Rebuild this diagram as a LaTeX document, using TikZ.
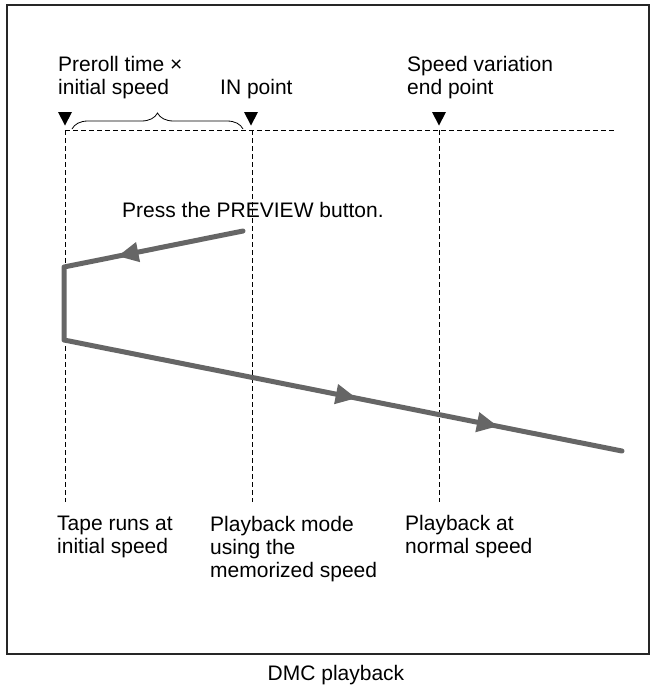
\documentclass[tikz,border=0pt]{standalone}
\usepackage{fontspec}
\setmainfont{Liberation Sans}
\usetikzlibrary{arrows.meta,positioning,decorations.pathreplacing,decorations.markings}
\definecolor{tapeGray}{RGB}{102,102,102}

\begin{document}
\begin{tikzpicture}[x=1pt, y=-1pt, >={Triangle[length=21pt,width=19pt]},
    every node/.style={font=\fontsize{21}{23}\selectfont, inner sep=0pt, align=left},
    guide/.style={black, line width=1pt, dash pattern=on 5pt off 3pt},
    tape/.style={tapeGray, line width=5pt, line join=round, line cap=round},
    cue/.style={fill=black}]
      \useasboundingbox (0,0) rectangle (650,685);
      % frame and caption
      \draw[line width=1.3pt, black!85] (7,5) rectangle (649,654);
      \node[anchor=base] (cap) at (336,680) {DMC playback};
      % time axis with the three cue points
      \coordinate (t0) at (65,130);
      \coordinate (t1) at (252,130);
      \coordinate (t2) at (439,130);
      \coordinate (tEnd) at (615,130);
      \coordinate (b0) at (65,502);
      \coordinate (b1) at (252,502);
      \coordinate (b2) at (439,502);
      \draw[guide] (t0) -- (tEnd);
      \draw[guide] (t0) -- (b0);
      \draw[guide] (t1) -- (b1);
      \draw[guide] (t2) -- (b2);
      \foreach \x in {65,251,439}
        \fill[cue] (\x-7,112) -- (\x+7,112) -- (\x,125.5) -- cycle;
      % preroll brace
      \coordinate (br0) at (72,129);
      \coordinate (br1) at (243,129);
      \draw[decorate, decoration={brace, amplitude=16pt}, line width=0.8pt] (br0) -- (br1);
      % labels above (base = last line)
      \node[anchor=base west] (preroll) at (58,94) {Preroll time ×\\initial speed};
      \node[anchor=base west] (inpt) at (220,94) {IN point};
      \node[anchor=base west] (svend) at (407,94) {Speed variation\\end point};
      \node[anchor=base west] (press) at (122,217) {Press the PREVIEW button.};
      % tape movement
      \coordinate (p0) at (243,231);
      \coordinate (p1) at (64,267);
      \coordinate (p2) at (64,340);
      \coordinate (p3) at (622,451);
      \draw[tape, postaction={decorate, decoration={markings,
          mark=at position 128pt with {\arrow{>}},
          mark=at position 554pt with {\arrow{>}},
          mark=at position 698pt with {\arrow{>}}}}]
        (p0) -- (p1) -- (p2) -- (p3);
      % labels below
      \node[anchor=base west] (initsp) at (57,553) {Tape runs at\\initial speed};
      \node[anchor=base west] (memsp) at (210,577) {Playback mode\\using the\\memorized speed};
      \node[anchor=base west] (normsp) at (405,553) {Playback at\\normal speed};
\end{tikzpicture}
\end{document}
